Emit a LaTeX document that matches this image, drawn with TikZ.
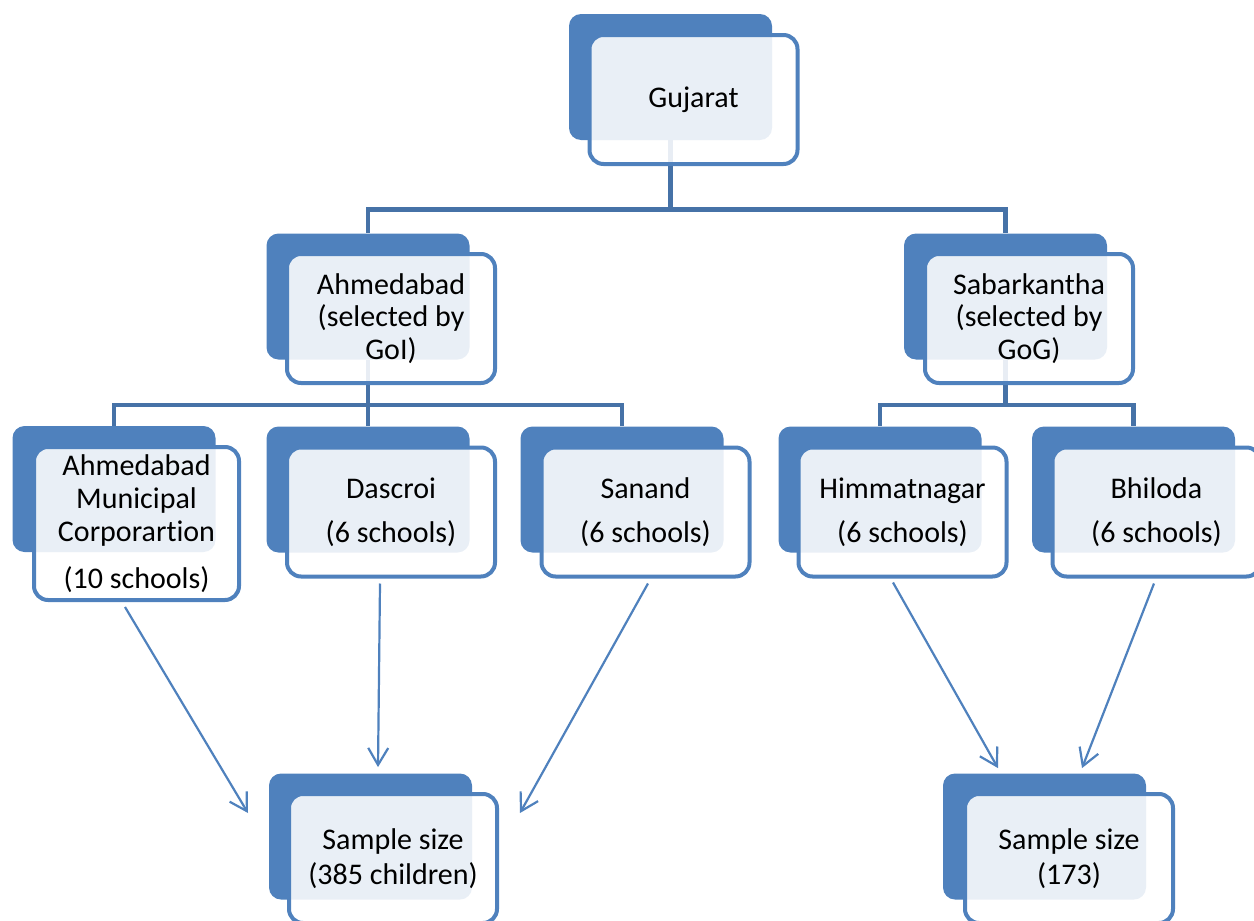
\documentclass[tikz,border=0pt]{standalone}
\usepackage{fontspec}
\setmainfont{Carlito}[Ligatures=NoCommon]
\usetikzlibrary{arrows.meta}
\definecolor{boxblue}{RGB}{79,129,189}
\definecolor{linkblue}{RGB}{70,114,167}

\begin{document}
\begin{tikzpicture}[x=0.5pt,y=-0.5pt,
  backbox/.style={rectangle, rounded corners=6pt, fill=boxblue, minimum width=101.5pt, minimum height=63pt, inner sep=0pt},
  frontbox/.style={rectangle, rounded corners=7pt, draw=boxblue, line width=2pt, fill=white, fill opacity=0.88, text opacity=1, minimum width=104pt, minimum height=64.5pt, inner sep=0pt, align=center, font=\fontsize{15}{16.4}\selectfont},
  link/.style={draw=linkblue, line width=2.2pt},
  arr/.style={draw=boxblue, line width=1.1pt, -{Straight Barb[length=8.5pt,width=10pt]}}]
\useasboundingbox (0,0) rectangle (1254,921);
\node[backbox] (gujb) at (670.5,77){};
\node[backbox] (ahmb) at (368,296.5){};
\node[backbox] (sabb) at (1005.5,296.5){};
\node[backbox] (amcb) at (114,489){};
\node[backbox] (dasb) at (368,489.5){};
\node[backbox] (sanb) at (622,489.5){};
\node[backbox] (himb) at (880,489.5){};
\node[backbox] (bhib) at (1133.5,489.5){};
\node[backbox] (slb) at (370.5,836.5){};
\node[backbox] (srb) at (1044.5,836.5){};
\draw[link](gujb.south) -- ++(0,69) -| (ahmb.north);
\draw[link](gujb.south) -- ++(0,69) -| (sabb.north);
\draw[link](ahmb.south) -- ++(0,45) -| (amcb.north);
\draw[link](ahmb.south) -- (dasb.north);
\draw[link](ahmb.south) -- ++(0,45) -| (sanb.north);
\draw[link](sabb.south) -- ++(0,45) -| (himb.north);
\draw[link](sabb.south) -- ++(0,45) -| (bhib.north);
\node[frontbox] (guj) at (693.5,99.5){Gujarat};
\node[frontbox] (ahm) at (391,318.5){Ahmedabad\\(selected by\\GoI)};
\node[frontbox] (sab) at (1029,318.5){Sabarkantha\\(selected by\\GoG)};
\node[frontbox, minimum width=102.5pt, minimum height=76.5pt] (amc) at (136.5,523.5){Ahmedabad\\Municipal\\Corporartion\\[7pt](10 schools)};
\node[frontbox] (das) at (391,512){Dascroi\\[5.5pt](6 schools)};
\node[frontbox] (san) at (645.5,512){Sanand\\[5.5pt](6 schools)};
\node[frontbox] (him) at (902.5,512){Himmatnagar\\[5.5pt](6 schools)};
\node[frontbox] (bhi) at (1156.5,512){Bhiloda\\[5.5pt](6 schools)};
\node[frontbox] (sl) at (393,858.5){Sample size\\[1pt](385 children)};
\node[frontbox] (sr) at (1069,858.5){Sample size\\[1pt](173)};
\draw[arr]([shift={(-11.5,5)}]amc.south) -- ([shift={(-39,-45.5)}]sl.west);
\draw[arr]([shift={(-11,5)}]das.south) -- ([shift={(7.5,-6)}]slb.north);
\draw[arr]([shift={(2.5,5)}]san.south) -- ([shift={(21,-45.5)}]sl.east);
\draw[arr]([shift={(-9.5,4)}]him.south) -- ([shift={(-46.5,-5)}]srb.north);
\draw[arr]([shift={(-2.5,5)}]bhi.south) -- ([shift={(37.5,-5)}]srb.north);
\end{tikzpicture}
\end{document}
